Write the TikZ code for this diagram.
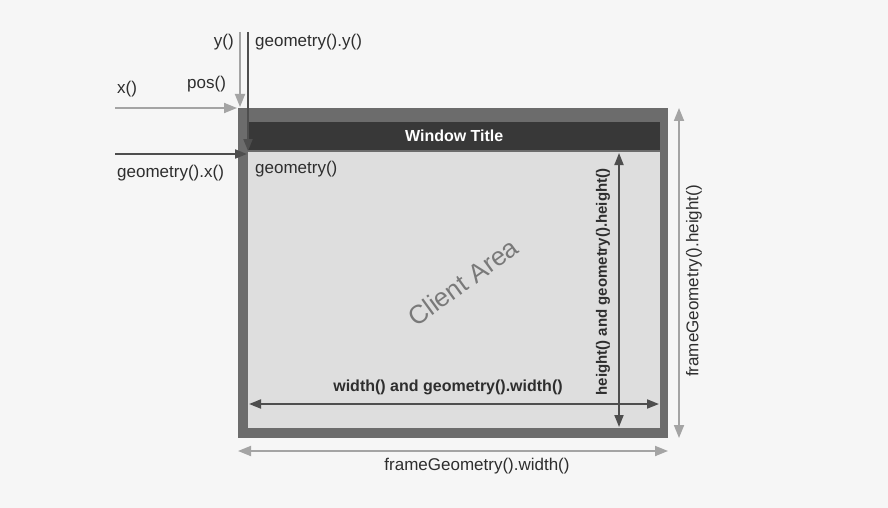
\documentclass[tikz,border=0pt]{standalone}
\usepackage{fontspec}
\setmainfont{Liberation Sans}
\usetikzlibrary{arrows.meta}
\definecolor{bg}{HTML}{F6F6F6}
\definecolor{framec}{HTML}{6C6C6C}
\definecolor{titlec}{HTML}{383838}
\definecolor{clientc}{HTML}{DEDEDE}
\definecolor{lightarr}{HTML}{A4A4A4}
\definecolor{darkarr}{HTML}{4E4E4E}
\definecolor{txt}{HTML}{2E2E2E}
\tikzset{
  lbl/.style={font=\fontsize{17}{19}\selectfont, text=txt, inner sep=0pt},
  outarr/.style={draw=lightarr, line width=1.8pt, -{Triangle[length=13pt,width=10pt]}},
  outdbl/.style={draw=lightarr, line width=1.8pt, {Triangle[length=13pt,width=10pt]}-{Triangle[length=13pt,width=10pt]}},
  inarr/.style={draw=darkarr, line width=1.8pt, -{Triangle[length=12pt,width=9pt]}},
  indbl/.style={draw=darkarr, line width=1.8pt, {Triangle[length=12pt,width=9pt]}-{Triangle[length=12pt,width=9pt]}},
}
\begin{document}
\begin{tikzpicture}[x=1pt,y=-1pt]
\fill[bg] (0,0) rectangle (888,508);
\useasboundingbox (0,0) rectangle (888,508);
% window frame
\node[draw=none, fill=framec, minimum width=430pt, minimum height=330pt, inner sep=0pt, anchor=north west] (frame) at (238,108) {};
\node[fill=titlec, minimum width=412pt, minimum height=28pt, inner sep=0pt, anchor=north west] (title) at (248,122) {};
\node[font=\fontsize{16}{18}\selectfont\bfseries, text=white] at (title.center) {Window Title};
\node[fill=clientc, minimum width=412pt, minimum height=276pt, inner sep=0pt, anchor=north west] (client) at (248,152) {};
\node[lbl, anchor=west] (geo) at (255,169) {geometry()};
\node[font=\fontsize{26}{29}\selectfont, text=gray!95!black, rotate=36] (ca) at (463,282) {Client Area};
% coordinates
\coordinate (ytop) at (240,32);
\coordinate (ybot) at (240,107);
\coordinate (gytop) at (248,32);
\coordinate (gybot) at (248,151);
\coordinate (xleft) at (115,108);
\coordinate (xright) at (237,108);
\coordinate (gxleft) at (115,154);
\coordinate (gxright) at (247,154);
% top-left arrows
\draw[outarr] (ytop) -- (ybot);
\draw[outarr] (xleft) -- (xright);
\draw[draw=darkarr, line width=1.3pt] (gytop) -- (248,108);
\draw[inarr] (248,108) -- (gybot);
\draw[draw=darkarr, line width=1.3pt] (gxleft) -- (238,154);
\draw[inarr] (238,154) -- (gxright);
\node[lbl, anchor=east] (ylbl) at (234,42) {y()};
\node[lbl, anchor=west] (gylbl) at (255,42) {geometry().y()};
\node[lbl, anchor=west] (xlbl) at (117,89) {x()};
\node[lbl, anchor=west] (poslbl) at (187,84) {pos()};
\node[lbl, anchor=west] (gxlbl) at (117,173) {geometry().x()};
% inner dimension arrows
\coordinate (wl) at (249,404);
\coordinate (wr) at (659,404);
\draw[indbl] (wl) -- (wr);
\node[lbl, font=\fontsize{16}{18}\selectfont\bfseries] (wlbl) at (448,387) {width() and geometry().width()};
\coordinate (ht) at (619,153);
\coordinate (hb) at (619,427);
\draw[indbl] (ht) -- (hb);
\node[lbl, font=\fontsize{15}{17}\selectfont\bfseries, rotate=90] (hlbl) at (603,282) {height() and geometry().height()};
% outer dimension arrows
\coordinate (ft) at (679,108);
\coordinate (fb) at (679,438);
\draw[outdbl] (ft) -- (fb);
\node[lbl, rotate=90] (fhlbl) at (694,281) {frameGeometry().height()};
\coordinate (fl) at (238,451);
\coordinate (fr) at (668,451);
\draw[outdbl] (fl) -- (fr);
\node[lbl] (fwlbl) at (477,466) {frameGeometry().width()};
\end{tikzpicture}
\end{document}
